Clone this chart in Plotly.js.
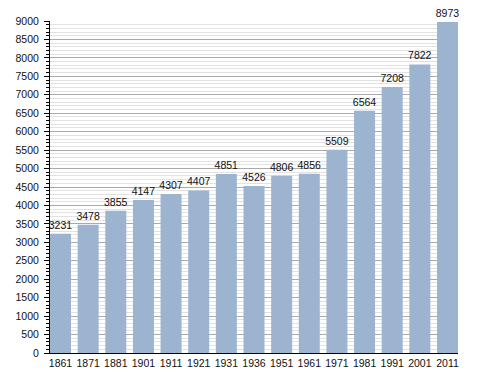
<!DOCTYPE html>
<html>
<head>
<meta charset="utf-8">
<script src="https://cdn.plot.ly/plotly-3.0.1.min.js"></script>
<style>html,body{margin:0;padding:0;background:#fff;}#chart{width:488px;height:373px;}</style>
</head>
<body>
<div id="chart"></div>
<script>
const years = ["1861","1871","1881","1901","1911","1921","1931","1936","1951","1961","1971","1981","1991","2001","2011"];
const population = [3231,3478,3855,4147,4307,4407,4851,4526,4806,4856,5509,6564,7208,7822,8973];
const yTicks = [0,500,1000,1500,2000,2500,3000,3500,4000,4500,5000,5500,6000,6500,7000,7500,8000,8500,9000];

const trace = {
  type: 'bar',
  x: years,
  y: population,
  text: population.map(String),
  textposition: 'outside',
  constraintext: 'none',
  cliponaxis: false,
  textfont: {family: 'Liberation Sans, Arial, sans-serif', size: 10.5, color: '#111'},
  marker: {color: '#9db4d0', line: {width: 0}},
  hoverinfo: 'none'
};

const layout = {
  width: 488, height: 373,
  margin: {l: 50, r: 30, t: 21, b: 20},
  paper_bgcolor: '#fff', plot_bgcolor: '#fff',
  showlegend: false,
  bargap: 0.24,
  font: {family: 'Liberation Sans, Arial, sans-serif', size: 10.5, color: '#111'},
  xaxis: {
    type: 'category',
    range: [-0.38, 14.38],
    showline: true, linecolor: '#000', linewidth: 1,
    showgrid: false, ticks: '', zeroline: false,
    tickfont: {size: 10.5, color: '#111'}
  },
  yaxis: {
    range: [0, 9000],
    tickvals: yTicks,
    ticktext: yTicks.map(String),
    ticks: 'outside', ticklen: 5, tickcolor: '#000', tickwidth: 1,
    ticklabelstandoff: 3,
    showline: true, linecolor: '#000', linewidth: 1,
    showgrid: true, gridcolor: '#aaaaaa', gridwidth: 1,
    zeroline: false,
    tickfont: {size: 10.5, color: '#111'},
    minor: {dtick: 100, tick0: 0, ticks: 'outside', ticklen: 3, tickcolor: '#000', showgrid: true, gridcolor: '#e2e2e2', gridwidth: 1}
  }
};

Plotly.newPlot('chart', [trace], layout, {displayModeBar: false, staticPlot: true});
</script>
</body>
</html>
